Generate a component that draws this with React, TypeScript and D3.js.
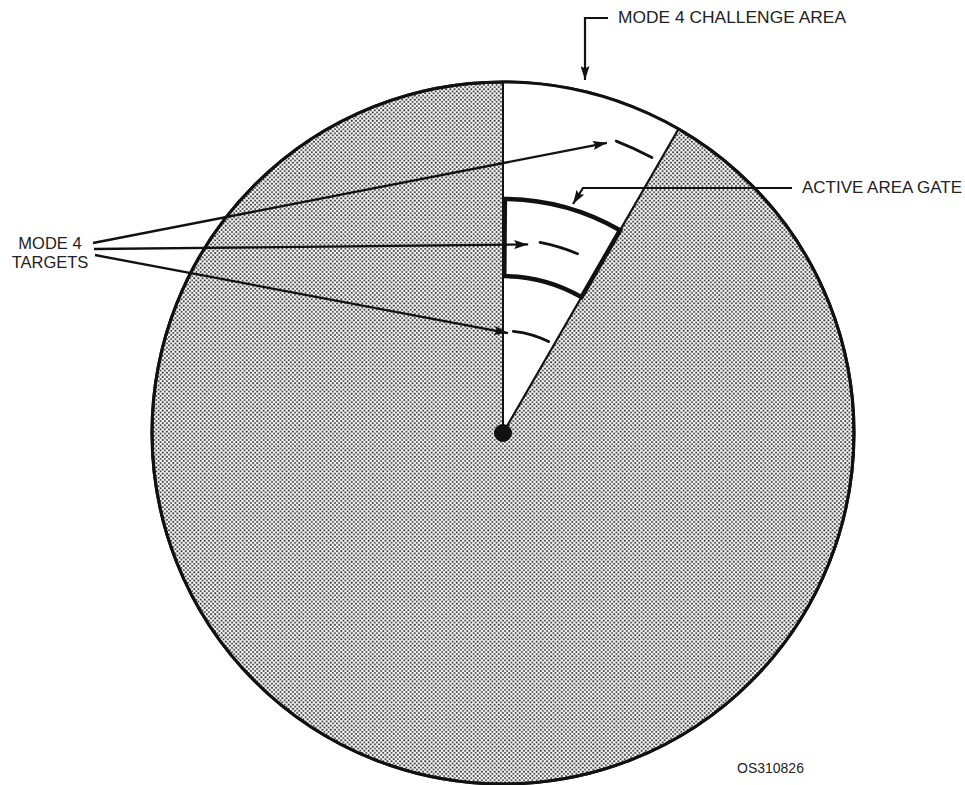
import React from "react";
import * as d3 from "d3";

// ---- data ----
const CENTER = [503, 433];
const RADIUS_UNITS = 100; // radar range in % of full scope
const challengeSector = [0, 30]; // degrees, clockwise from north
const gateRange = [44.7, 66.7]; // % range inner/outer
const targetRanges = [89.2, 55.3, 29.1]; // % range
const targetStart = [21.2, 11, 5.8]; // deg
const targetEnd = [28.4, 22.6, 26.5]; // deg
const arrowTipRange = [87.8, 54.2, 28.5];
const arrowTipAngle = [19.7, 7.6, 2.9];
const arrowOrigins = [
  [93, 243],
  [94, 249],
  [95, 255],
];
const labelTargets = ["MODE 4", "TARGETS"];
const labelChallenge = "MODE 4 CHALLENGE AREA";
const labelGate = "ACTIVE AREA GATE";
const figureId = "OS310826";

export default function App() {
  const [cx, cy] = CENTER;
  const r = d3.scaleLinear().domain([0, RADIUS_UNITS]).range([0, 351]);
  const rad = (deg: number) => (deg * Math.PI) / 180;
  const polar = (range: number, deg: number): [number, number] => [
    cx + r(range) * Math.sin(rad(deg)),
    cy - r(range) * Math.cos(rad(deg)),
  ];

  const wedge = d3
    .arc()
    .innerRadius(0)
    .outerRadius(r(RADIUS_UNITS))
    .startAngle(rad(challengeSector[0]))
    .endAngle(rad(challengeSector[1]))({} as any) as string;

  const gatePath = d3
    .arc()
    .innerRadius(r(gateRange[0]))
    .outerRadius(r(gateRange[1]))
    .startAngle(rad(challengeSector[0]) + 0.008)
    .endAngle(rad(challengeSector[1]))({} as any) as string;

  const targetPaths = targetRanges.map((tr, i) => {
    const p = d3.path();
    const a0 = rad(targetStart[i] - 90);
    const a1 = rad(targetEnd[i] - 90);
    p.arc(0, 0, r(tr), a0, a1);
    return p.toString();
  });

  const edgeEnd = polar(RADIUS_UNITS, challengeSector[1]);
  const topEnd = polar(RADIUS_UNITS, challengeSector[0]);

  const font = "'Liberation Sans', Arial, Helvetica, sans-serif";

  return (
    <svg
      width={965}
      height={785}
      style={{ position: "absolute", left: 0, top: 0, display: "block", background: "#fff" }}
    >
      <defs>
        <pattern id="stipple" width={4.2} height={4.2} patternUnits="userSpaceOnUse">
          <rect width={4.2} height={4.2} fill="#fff" />
          <rect x={0.2} y={0.2} width={1.7} height={1.7} fill="#1e1e1e" />
          <rect x={2.3} y={2.3} width={1.7} height={1.7} fill="#1e1e1e" />
        </pattern>
        <marker
          id="arrow"
          viewBox="0 0 14 9"
          refX={14}
          refY={4.5}
          markerWidth={14}
          markerHeight={9}
          markerUnits="userSpaceOnUse"
          orient="auto"
        >
          <path d="M0,0 L14,4.5 L0,9 L2.5,4.5 Z" fill="#111" />
        </marker>
      </defs>

      {/* scope */}
      <circle cx={cx} cy={cy} r={r(RADIUS_UNITS)} fill="url(#stipple)" stroke="#111" strokeWidth={3} />
      <path d={wedge} transform={`translate(${cx},${cy})`} fill="#fff" stroke="none" />
      <circle cx={cx} cy={cy} r={r(RADIUS_UNITS)} fill="none" stroke="#111" strokeWidth={3} />
      <line x1={cx} y1={cy} x2={topEnd[0]} y2={topEnd[1]} stroke="#111" strokeWidth={2} />
      <line x1={cx} y1={cy} x2={edgeEnd[0]} y2={edgeEnd[1]} stroke="#111" strokeWidth={2.2} />

      {/* gate */}
      <path
        d={gatePath}
        transform={`translate(${cx},${cy})`}
        fill="none"
        stroke="#111"
        strokeWidth={4.5}
        strokeLinejoin="miter"
      />

      {/* targets */}
      {targetPaths.map((d, i) => (
        <path
          key={i}
          d={d}
          transform={`translate(${cx},${cy})`}
          fill="none"
          stroke="#111"
          strokeWidth={2.8}
          strokeLinecap="round"
        />
      ))}

      <circle cx={cx} cy={cy} r={9} fill="#111" />

      {/* target arrows */}
      {arrowOrigins.map((o, i) => {
        const tip = polar(arrowTipRange[i], arrowTipAngle[i]);
        return (
          <line
            key={i}
            x1={o[0]}
            y1={o[1]}
            x2={tip[0]}
            y2={tip[1]}
            stroke="#111"
            strokeWidth={2.3}
            markerEnd="url(#arrow)"
          />
        );
      })}

      {/* challenge area leader */}
      <polyline
        points="608,18 585,18 585,80"
        fill="none"
        stroke="#111"
        strokeWidth={2.2}
        markerEnd="url(#arrow)"
      />
      {/* gate leader */}
      <polyline
        points="792,188 583,188 573,204"
        fill="none"
        stroke="#111"
        strokeWidth={2.2}
        markerEnd="url(#arrow)"
      />

      {/* labels */}
      <text x={618} y={23} fontFamily={font} fontSize={17} fill="#222" textLength={228} lengthAdjust="spacingAndGlyphs">
        {labelChallenge}
      </text>
      <text x={802} y={193} fontFamily={font} fontSize={17} fill="#222" textLength={160} lengthAdjust="spacingAndGlyphs">
        {labelGate}
      </text>
      <text x={50} y={249} fontFamily={font} fontSize={16.5} fill="#222" textAnchor="middle">
        {labelTargets[0]}
      </text>
      <text x={50} y={268} fontFamily={font} fontSize={16.5} fill="#222" textAnchor="middle">
        {labelTargets[1]}
      </text>
      <text x={737} y={773} fontFamily={font} fontSize={14} fill="#222">
        {figureId}
      </text>
    </svg>
  );
}
